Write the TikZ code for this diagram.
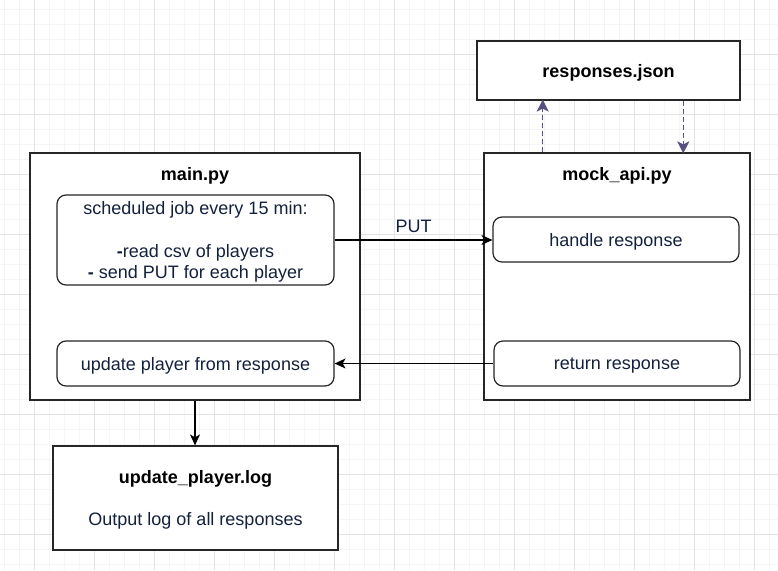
\documentclass[tikz,border=0pt]{standalone}
\usepackage{fontspec}
\setmainfont{Liberation Sans}
\usetikzlibrary{arrows.meta,calc}
\definecolor{ink}{HTML}{14213D}
\definecolor{dashline}{HTML}{56517E}
\colorlet{gridmajor}{black!11}
\colorlet{gridminor}{black!4}
\tikzset{
  >={Stealth[length=11pt,width=10pt,inset=3pt]},
  every node/.style={font=\fontsize{18}{21.5}\selectfont,text depth=0pt},
  box/.style={draw=black!85,line width=1.2pt,fill=white,inner sep=0pt},
  task/.style={box,rounded corners=9pt,text=ink,align=center},
  title/.style={font=\fontsize{18}{21.5}\selectfont\bfseries},
  flow/.style={->,line width=1.2pt},
  dashflow/.style={-{Stealth[length=12pt,width=12pt,inset=3pt,sep=-1pt]},line width=1.5pt,color=dashline,dash pattern=on 5pt off 3pt}
}

\begin{document}
\begin{tikzpicture}[x=1pt,y=-1pt]
  \useasboundingbox (0,0) rectangle (778,570);
  % background grid
  \foreach \x in {4.3,19.3,...,778} \draw[gridminor,line width=0.8pt] (\x,0) -- (\x,570);
  \foreach \y in {9.3,24.3,...,570} \draw[gridminor,line width=0.8pt] (0,\y) -- (778,\y);
  \foreach \x in {34.3,94.3,...,778} \draw[gridmajor,line width=0.8pt] (\x,0) -- (\x,570);
  \foreach \y in {54.3,114.3,...,570} \draw[gridmajor,line width=0.8pt] (0,\y) -- (778,\y);

  % main.py
  \node[box,minimum width=330pt,minimum height=247pt] (main) at (195,276.5) {};
  \node[title] (mainT) at (195,174) {main.py};
  \node[task,minimum width=277pt,minimum height=90pt] (sched) at (195.5,240)
    {scheduled job every 15 min:\\ \mbox{}\\ \textbf{-}read csv of players\\ \textbf{-} send PUT for each player};
  \node[task,minimum width=277pt,minimum height=45pt] (upd) at (195.5,363.5) {update player from response};

  % mock_api.py
  \node[box,minimum width=266pt,minimum height=247pt] (mock) at (617,276.5) {};
  \node[title] (mockT) at (617,174) {mock\_api.py};
  \node[task,minimum width=246pt,minimum height=45pt] (handle) at (616,239.5) {handle response};
  \node[task,minimum width=246pt,minimum height=45pt] (ret) at (617,363.5) {return response};

  % responses.json
  \node[box,minimum width=263pt,minimum height=59pt,font=\fontsize{18}{21.5}\selectfont\bfseries] (json) at (608.5,70.5) {responses.json};

  % update_player.log
  \node[box,minimum width=285pt,minimum height=104pt] (log) at (195.5,498) {};
  \node[title] (logT) at (195.5,477) {update\_player.log};
  \node[text=ink] (logD) at (195.5,519) {Output log of all responses};

  \coordinate (up) at ($(mock.north west)!0.222!(mock.north east)$);
  \coordinate (dn) at ($(mock.north west)!0.748!(mock.north east)$);

  \draw[flow] (sched.east) -- node[above=4pt,text=ink] {PUT} (sched.east -| handle.west);
  \draw[flow] (ret.west) -- (ret.west -| upd.east);
  \draw[flow] (main.south) -- (main.south |- log.north);
  \draw[dashflow] (up) -- (up |- json.south);
  \draw[dashflow] (dn |- json.south) -- (dn);
\end{tikzpicture}
\end{document}
